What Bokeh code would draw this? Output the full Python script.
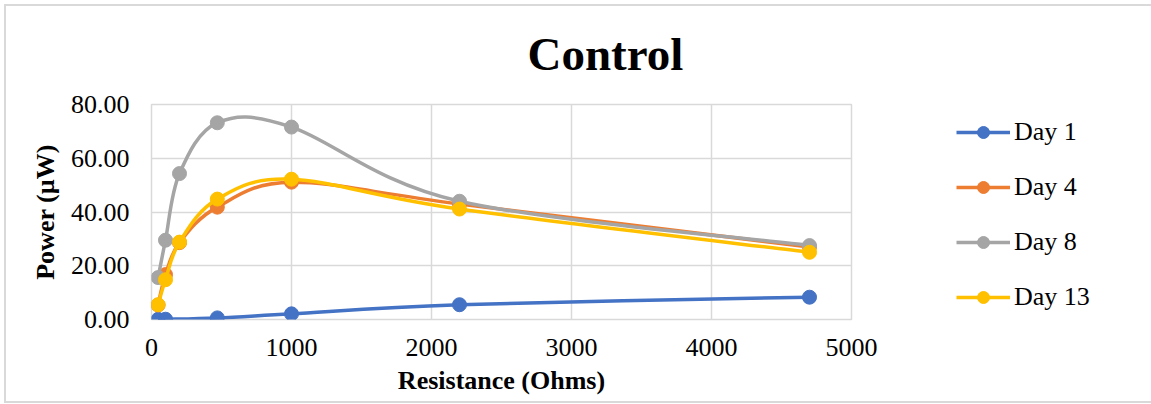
import numpy as np
from bokeh.plotting import figure
from bokeh.models import (Legend, LegendItem, Title, NumeralTickFormatter,
                          FixedTicker, Range1d)
from bokeh.embed import file_html
from bokeh.resources import INLINE

# ---------------- data ----------------
resistance_day1 = [47, 100, 470, 1000, 2200, 4700]
power_day1 = [0.05, 0.1, 0.6, 2.1, 5.5, 8.3]

resistance = [47, 100, 200, 470, 1000, 2200, 4700]
power_day4 = [5.4, 16.7, 28.6, 41.8, 51.1, 43.0, 27.0]
power_day8 = [15.6, 29.5, 54.3, 73.2, 71.6, 44.0, 27.5]
power_day13 = [5.5, 14.8, 28.8, 44.8, 52.2, 41.1, 25.0]

series_names = ["Day 1", "Day 4", "Day 8", "Day 13"]
x_ticks = [0, 1000, 2000, 3000, 4000, 5000]
y_ticks = [0, 20, 40, 60, 80]

colors = ["#4472C4", "#ED7D31", "#A5A5A5", "#FFC000"]
FONT = "Liberation Serif"
CHART_BORDER = "#d9d9d9"


def smooth_segments(xs, ys, t=1.0 / 6.0):
    """Bezier control points for an Excel-like smoothed line through the data."""
    x = np.asarray(xs, float)
    y = np.asarray(ys, float)
    n = len(x)
    xp = np.concatenate([[x[0]], x, [x[-1]]])
    yp = np.concatenate([[y[0]], y, [y[-1]]])
    cx0 = x[:-1] + (xp[2:n + 1] - xp[0:n - 1]) * t
    cy0 = y[:-1] + (yp[2:n + 1] - yp[0:n - 1]) * t
    cx1 = x[1:] - (xp[3:n + 2] - xp[1:n]) * t
    cy1 = y[1:] - (yp[3:n + 2] - yp[1:n]) * t
    return dict(x0=x[:-1], y0=y[:-1], x1=x[1:], y1=y[1:],
                cx0=cx0, cy0=cy0, cx1=cx1, cy1=cy1)


p = figure(frame_width=700, frame_height=215, output_backend="svg",
           toolbar_location=None,
           x_range=Range1d(0, 5000), y_range=Range1d(0, 80),
           min_border_left=151, min_border_right=300,
           min_border_top=104, min_border_bottom=85)
g = f"linear-gradient({CHART_BORDER},{CHART_BORDER})"
p.styles = {
    "background": (f"{g} 4px 4px / 2px 398px no-repeat, "
                   f"{g} 4px 4px / 1147px 2px no-repeat, "
                   f"{g} 4px 401px / 1147px 2px no-repeat, white"),
}
p.background_fill_color = "white"
p.border_fill_alpha = 0
p.outline_line_color = "#d9d9d9"
p.outline_line_width = 1.5

title = Title(text="Control", align="left", offset=376, vertical_align="middle",
              text_font=FONT, text_font_size="47px", text_font_style="bold",
              text_color="black", standoff=48)
p.add_layout(title, "above")

# axes
for ax in (p.xaxis[0], p.yaxis[0]):
    ax.axis_line_color = None
    ax.major_tick_line_color = None
    ax.minor_tick_line_color = None
    ax.major_tick_out = 0
    ax.major_tick_in = 0
    ax.major_label_text_font = FONT
    ax.major_label_text_font_size = "26px"
    ax.major_label_text_color = "#000000"
    ax.axis_label_text_font = FONT
    ax.axis_label_text_font_size = "26px"
    ax.axis_label_text_font_style = "bold"
    ax.axis_label_text_color = "#000000"

p.xaxis.ticker = FixedTicker(ticks=x_ticks)
p.yaxis.ticker = FixedTicker(ticks=y_ticks)
p.xaxis.formatter = NumeralTickFormatter(format="0")
p.yaxis.formatter = NumeralTickFormatter(format="0.00")
p.xaxis.axis_label = "Resistance (Ohms)"
p.yaxis.axis_label = "Power (µW)"
p.xaxis.major_label_standoff = 19
p.yaxis.major_label_standoff = 22
p.xaxis.axis_label_standoff = 7
p.yaxis.axis_label_standoff = 8

p.xgrid.grid_line_color = "#d9d9d9"
p.ygrid.grid_line_color = "#d9d9d9"
p.xgrid.grid_line_width = 1.5
p.ygrid.grid_line_width = 1.5

all_x = [resistance_day1, resistance, resistance, resistance]
all_y = [power_day1, power_day4, power_day8, power_day13]

items = []
for name, xs, ys, c in zip(series_names, all_x, all_y, colors):
    seg = smooth_segments(xs, ys)
    bz = p.bezier(x0="x0", y0="y0", x1="x1", y1="y1", cx0="cx0", cy0="cy0",
                  cx1="cx1", cy1="cy1", source=seg, line_color=c, line_width=3.5)
    sc = p.scatter(xs, ys, size=14, fill_color=c, line_color=c, marker="circle")
    items.append(LegendItem(label=name, renderers=[bz, sc]))

legend = Legend(items=items, location=(105, 7), border_line_color=None,
                background_fill_alpha=0,
                label_text_font=FONT, label_text_font_size="26px",
                label_text_color="#000000",
                glyph_width=54, glyph_height=30, label_height=30,
                label_standoff=4, spacing=25, padding=10, margin=0)
p.add_layout(legend, "right")

open("out.html", "w").write(file_html(p, INLINE))
